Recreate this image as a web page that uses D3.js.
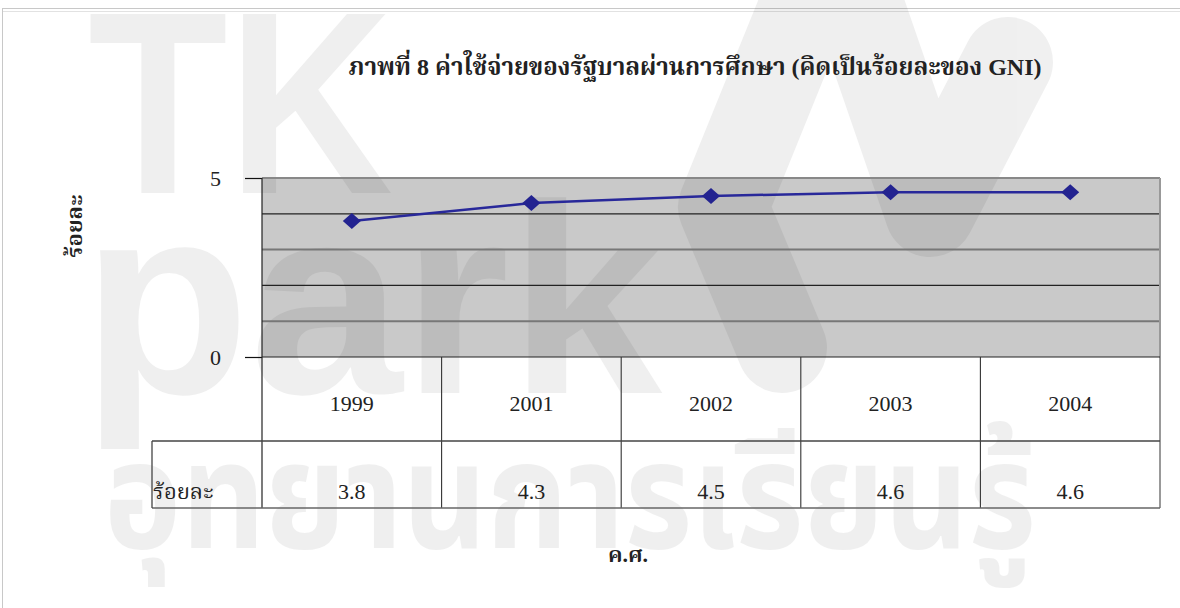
<!DOCTYPE html>
<html><head><meta charset="utf-8">
<script src="https://cdn.jsdelivr.net/npm/d3@7"></script>
<style>body{margin:0;background:#fff}svg{display:block}</style>
</head><body>
<svg id="c" width="1180" height="608"></svg>
<script>
const years = ["1999", "2001", "2002", "2003", "2004"];
const values = [3.8, 4.3, 4.5, 4.6, 4.6];
const valueLabels = ["3.8", "4.3", "4.5", "4.6", "4.6"];
const yTicks = [0, 5];
const gridValues = [1, 2, 3, 4];
const title = "ภาพที่  8  ค่าใช้จ่ายของรัฐบาลผ่านการศึกษา (คิดเป็นร้อยละของ GNI)";
const yTitle = "ร้อยละ";
const xTitle = "ค.ศ.";
const rowLabel = "ร้อยละ";

const serif = "'Liberation Serif', 'Noto Serif Thai', 'Noto Sans Thai Looped', 'Times New Roman', serif";
const svg = d3.select("#c");
const L = 262, R = 1160, T = 178, B = 357;
const row1B = 441, row2B = 508, rowLabelL = 152;

const x = d3.scaleBand().domain(years).range([L, R]);
const y = d3.scaleLinear().domain([0, 5]).range([B, T]);

// outer frame
svg.append("rect").attr("x", 2.5).attr("y", 8.5).attr("width", 1200).attr("height", 700)
  .attr("fill", "none").attr("stroke", "#c8c8c8");
svg.append("line").attr("x1", 3).attr("x2", 1180).attr("y1", 11.5).attr("y2", 11.5).attr("stroke", "#e2e2e2");

// plot background
svg.append("rect").attr("x", L).attr("y", T).attr("width", R - L).attr("height", B - T).attr("fill", "#c9c9c9");

// watermark
const wm = svg.append("g").attr("opacity", 0.058);
wm.append("text").attr("x", 88).attr("y", 193).attr("font-family", "Liberation Sans, Arial, sans-serif")
  .attr("font-weight", "bold").attr("font-size", 260).attr("textLength", 305).attr("lengthAdjust", "spacingAndGlyphs").text("TK");
wm.append("text").attr("x", 82).attr("y", 393).attr("font-family", "Liberation Sans, Arial, sans-serif")
  .attr("font-weight", "bold").attr("font-size", 270).attr("textLength", 580).attr("lengthAdjust", "spacingAndGlyphs").text("park");
wm.append("path").attr("d", "M815,-20 L723,207 L782,348").attr("fill", "none").attr("stroke", "#000")
  .attr("stroke-width", 90).attr("stroke-linecap", "round").attr("stroke-linejoin", "round");
wm.append("path").attr("d", "M850,-20 L930,212 L1008,62").attr("fill", "none").attr("stroke", "#000")
  .attr("stroke-width", 90).attr("stroke-linecap", "round").attr("stroke-linejoin", "round");
wm.append("text").attr("x", 104).attr("y", 548).attr("font-family", "Noto Sans Thai, Noto Sans, sans-serif")
  .attr("font-weight", "bold").attr("font-size", 150).attr("textLength", 932).attr("lengthAdjust", "spacingAndGlyphs").text("อุทยานการเรียนรู้");

// gridlines
svg.selectAll("line.grid").data(gridValues).enter().append("line").attr("class", "grid")
  .attr("x1", L).attr("x2", R).attr("y1", d => y(d)).attr("y2", d => y(d))
  .attr("stroke", d => d % 2 ? "#777" : "#222").attr("stroke-width", d => d % 2 ? 2 : 1.2);

// plot borders
svg.append("line").attr("x1", L).attr("x2", R).attr("y1", T).attr("y2", T).attr("stroke", "#888").attr("stroke-width", 2);
svg.append("line").attr("x1", R).attr("x2", R).attr("y1", T).attr("y2", row2B).attr("stroke", "#999").attr("stroke-width", 2);

// y axis
const yAxis = d3.axisLeft(y).tickValues(yTicks).tickSize(17).tickPadding(24).tickFormat(d3.format("d"));
const ya = svg.append("g").attr("transform", `translate(${L},0)`).call(yAxis);
ya.select(".domain").remove();
ya.selectAll(".tick line").attr("stroke", "#111").attr("stroke-width", 1.2);
ya.selectAll(".tick text").attr("font-family", serif).attr("font-size", 22).attr("fill", "#222")
  .attr("dy", "0.35em");
svg.append("line").attr("x1", L).attr("x2", L).attr("y1", T).attr("y2", row2B).attr("stroke", "#222").attr("stroke-width", 1.2);
svg.append("line").attr("x1", L).attr("x2", R).attr("y1", B).attr("y2", B).attr("stroke", "#222").attr("stroke-width", 1.2);

// table
const tbl = svg.append("g");
tbl.selectAll("line.v").data(years.slice(1)).enter().append("line")
  .attr("x1", d => x(d)).attr("x2", d => x(d)).attr("y1", B).attr("y2", row2B).attr("stroke", "#333").attr("stroke-width", 1.1);
tbl.append("line").attr("x1", rowLabelL).attr("x2", R).attr("y1", row1B).attr("y2", row1B).attr("stroke", "#444").attr("stroke-width", 1.3);
tbl.append("line").attr("x1", rowLabelL).attr("x2", R).attr("y1", row2B).attr("y2", row2B).attr("stroke", "#666").attr("stroke-width", 1.6);
tbl.append("line").attr("x1", rowLabelL).attr("x2", rowLabelL).attr("y1", row1B).attr("y2", row2B).attr("stroke", "#444").attr("stroke-width", 1.3);
tbl.selectAll("text.yr").data(years).enter().append("text")
  .attr("x", d => x(d) + x.bandwidth() / 2).attr("y", 411).attr("text-anchor", "middle")
  .attr("font-family", serif).attr("font-size", 22).attr("fill", "#222").text(d => d);
tbl.selectAll("text.val").data(valueLabels).enter().append("text")
  .attr("x", (d, i) => x(years[i]) + x.bandwidth() / 2).attr("y", 499).attr("text-anchor", "middle")
  .attr("font-family", serif).attr("font-size", 22).attr("fill", "#222").text(d => d);
tbl.append("text").attr("x", 153).attr("y", 499).attr("font-family", serif).attr("font-size", 22)
  .attr("fill", "#222").text(rowLabel);

// line + markers
const cx = d => x(d) + x.bandwidth() / 2;
svg.append("path").datum(years).attr("fill", "none").attr("stroke", "#28289a").attr("stroke-width", 2.5)
  .attr("d", d3.line().x(d => cx(d)).y((d, i) => y(values[i])));
svg.selectAll("path.mk").data(years).enter().append("path")
  .attr("transform", (d, i) => `translate(${cx(d)},${y(values[i])})`)
  .attr("d", "M0,-8 L9,0 L0,8 L-9,0 Z").attr("fill", "#232390");

// titles
svg.append("text").attr("x", 695).attr("y", 75).attr("text-anchor", "middle")
  .attr("font-family", serif).attr("font-weight", "bold").attr("font-size", 24)
  .attr("fill", "#222").text(title);
svg.append("text").attr("transform", "translate(82,226) rotate(-90)").attr("text-anchor", "middle")
  .attr("font-family", serif).attr("font-weight", "bold").attr("font-size", 22).attr("fill", "#222").text(yTitle);
svg.append("text").attr("x", 628).attr("y", 562).attr("text-anchor", "middle")
  .attr("font-family", serif).attr("font-weight", "bold").attr("font-size", 22).attr("fill", "#222").text(xTitle);
</script>
</body></html>
